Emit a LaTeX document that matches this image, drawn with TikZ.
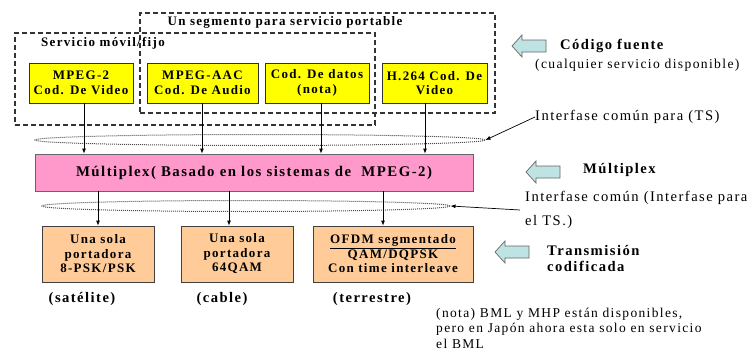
\documentclass[tikz,border=0pt]{standalone}
\usepackage{fontspec}
\setmainfont{Liberation Serif}[LetterSpace=10]
\usetikzlibrary{shapes.geometric,arrows.meta}
\definecolor{yel}{HTML}{FFFF00}
\definecolor{pinkbox}{HTML}{FF99CC}
\definecolor{orangebox}{HTML}{FFCC99}
\definecolor{arrowblue}{HTML}{BFE3E3}
\tikzset{
  x=1pt,y=-1pt,
  srcbox/.style={draw=black!80,fill=yel,line width=0.8pt,minimum height=40pt,inner sep=1pt,align=center,font=\fontsize{13}{14.5}\selectfont\bfseries},
  muxbox/.style={draw=black!60,fill=pinkbox,line width=0.8pt,minimum height=37pt,minimum width=438pt,font=\fontsize{14.8}{16}\selectfont\bfseries},
  txbox/.style={draw=black!75,fill=orangebox,line width=0.8pt,minimum height=56pt,inner sep=1pt,align=center,font=\fontsize{13}{14.5}\selectfont\bfseries},
  grpbox/.style={draw=black!80,dash pattern=on 5pt off 3pt,line width=1.1pt},
  tsring/.style={ellipse,draw=black!70,densely dotted,line width=1pt,minimum height=11pt,inner sep=0pt},
  conn/.style={-{Latex[length=5pt,width=4pt]},line width=0.8pt},
  lbl/.style={font=\fontsize{14.6}{16}\selectfont,anchor=west,inner sep=0pt},
  blbl/.style={font=\fontsize{14.6}{16}\selectfont\bfseries,inner sep=0pt},
  barrow/.pic={\draw[fill=arrowblue,draw=black!60,line width=0.7pt] (0,0) -- (10,-11) -- (10,-6) -- (34,-6) -- (34,6) -- (10,6) -- (10,11) -- cycle;}
}
\begin{document}
\begin{tikzpicture}
\useasboundingbox (0,0) rectangle (753,356);
% group boxes
\node[grpbox,minimum width=355pt,minimum height=100pt] (gport) at (317.5,63) {};
\node[grpbox,minimum width=360pt,minimum height=92pt] (gmov) at (195,79) {};
\node[blbl,font=\fontsize{13}{14}\selectfont\bfseries] (lport) at (285,22) {Un segmento para servicio portable};
\node[blbl,font=\fontsize{13}{14}\selectfont\bfseries] (lmov) at (103,43) {Servicio móvil/fijo};
% source boxes
\node[srcbox,minimum width=104pt] (b1) at (81,83) {MPEG-2\\Cod. De Video};
\node[srcbox,minimum width=111pt] (b2) at (202.5,83) {MPEG-AAC\\Cod. De Audio};
\node[srcbox,minimum width=104pt] (b3) at (317,83) {Cod. De datos\\(nota)};
\node[srcbox,minimum width=105pt] (b4) at (434.5,83) {H.264 Cod. De\\Video};
% TS rings
\node[tsring,minimum width=450pt] (e1) at (260,140) {};
\node[tsring,minimum width=408pt] (e2) at (246,206) {};
% multiplex
\node[muxbox] (mux) at (254,172.5) {Múltiplex( Basado en los sistemas de \ MPEG-2)};
% transmission boxes
\node[txbox,minimum width=112pt] (t1) at (98,254) {Una sola\\portadora\\8-PSK/PSK};
\node[txbox,minimum width=112pt] (t2) at (237,254) {Una sola\\portadora\\64QAM};
\node[txbox,minimum width=160pt] (t3) at (393,254) {\underline{OFDM segmentado}\\QAM/DQPSK\\Con time interleave};
% connectors
\coordinate (s1) at ([xshift=3pt]b1.south);
\coordinate (s2) at ([xshift=-0.5pt]b2.south);
\coordinate (s3) at ([xshift=4pt]b3.south);
\coordinate (s4) at ([xshift=-9.5pt]b4.south);
\foreach \s in {s1,s2,s3,s4}{\draw[conn] (\s) -- (\s |- mux.north);}
\coordinate (m1) at ([xshift=0pt]t1.north);
\coordinate (m2) at ([xshift=-8pt]t2.north);
\coordinate (m3) at ([xshift=-10pt]t3.north);
\foreach \m in {m1,m2,m3}{\draw[conn] (\m |- mux.south) -- (\m);}
% labels below
\node[blbl] (ls) at (82,299) {(satélite)};
\node[blbl] (lc) at (222,299) {(cable)};
\node[blbl] (lt) at (372,299) {(terrestre)};
% right side
\pic at (512,46) {barrow};
\node[blbl,anchor=west] (cf) at (560,46) {Código fuente};
\node[lbl,font=\fontsize{13.6}{16}\selectfont] (cs) at (535,65) {(cualquier servicio disponible)};
\node[lbl] (if1) at (535,117) {Interfase común para (TS)};
\draw[conn,line width=0.7pt] (if1.west) -- (e1.east);
\pic at (526,172) {barrow};
\node[blbl,anchor=west] (mx) at (583,170) {Múltiplex};
\node[lbl] (if2) at (525,198) {Interfase común (Interfase para};
\node[lbl] (if2b) at (525,222) {el TS.)};
\coordinate (if2s) at (520,210);
\draw[conn,line width=0.7pt] (if2s) -- (e2.east);
\pic at (495,252) {barrow};
\node[blbl,anchor=west,align=left,font=\fontsize{14.6}{16}\selectfont\bfseries] (tc) at (547,258) {Transmisión\\codificada};
\node[lbl,align=left,font=\fontsize{13.5}{15.5}\selectfont] (nota) at (436,328) {(nota) BML y MHP están disponibles,\\pero en Japón ahora esta solo en servicio\\el BML};
\end{tikzpicture}
\end{document}
